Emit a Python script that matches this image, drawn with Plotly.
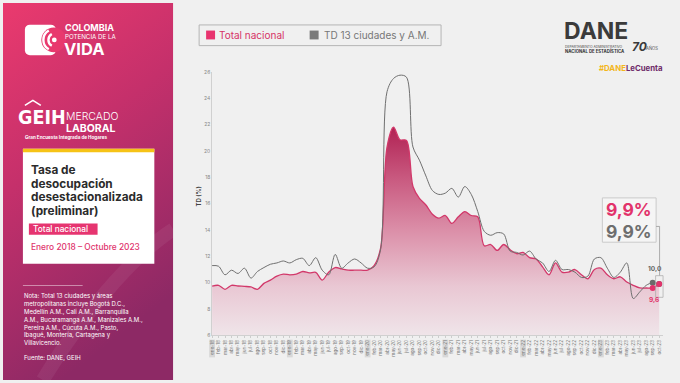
import base64
import plotly.graph_objects as go

# ---------------- data ----------------
months_es = ["ene", "feb", "mar", "abr", "may", "jun", "jul", "ago", "sep", "oct", "nov", "dic"]
years_short = ["18", "19", "20", "21", "22", "23"]
tick_labels = [f"{m}-{y}" for y in years_short for m in months_es][:70]

total_nacional = [
    9.74, 9.80, 9.50, 9.80, 9.75, 9.72, 9.68, 9.50, 9.95, 10.20, 10.50, 10.65,
    10.60, 10.65, 10.85, 10.75, 10.78, 10.20, 10.80, 11.15, 11.05, 10.95, 10.95, 10.95,
    10.95, 11.30, 12.60, 20.30, 21.80, 20.85, 20.80, 17.30, 16.40, 15.90, 15.20, 14.90,
    15.10, 14.50, 15.00, 15.40, 15.10, 15.00, 12.80, 12.90, 12.45, 12.90, 12.50, 12.20,
    12.30, 11.90, 11.80, 11.20, 10.60, 11.50, 10.80, 10.80, 11.00, 10.60, 10.30, 11.00,
    11.10, 10.60, 10.30, 10.45, 10.05, 9.80, 9.60, 9.60, 9.60, 9.90,
]
td_13_ciudades = [
    11.30, 11.25, 10.60, 10.95, 10.70, 11.10, 10.35, 10.85, 11.15, 11.40, 11.50, 11.65,
    11.50, 11.75, 11.85, 11.30, 11.90, 10.95, 10.60, 12.15, 11.10, 11.50, 11.80, 11.50,
    11.10, 11.20, 12.50, 24.50, 25.50, 25.75, 25.60, 20.30, 19.30, 18.10, 17.00, 16.70,
    16.80, 17.16, 16.50, 17.30, 16.70, 15.40, 13.90, 13.60, 13.80, 13.70, 12.40, 12.30,
    12.10, 12.40, 11.80, 11.50, 10.85, 11.70, 11.00, 11.00, 10.80, 10.40, 10.50, 11.80,
    11.90, 11.10, 10.40, 10.80, 11.50, 8.80, 9.30, 9.80, 10.00, 9.90,
]
y_ticks = [6, 8, 10, 12, 14, 16, 18, 20, 22, 24, 26]
x_idx = list(range(len(total_nacional)))

note_lines = [
    "Nota: Total 13 ciudades y áreas",
    "metropolitanas incluye Bogotá D.C.,",
    "Medellín A.M., Cali A.M., Barranquilla",
    "A.M., Bucaramanga A.M., Manizales A.M.,",
    "Pereira A.M., Cúcuta A.M., Pasto,",
    "Ibagué, Montería, Cartagena y",
    "Villavicencio.",
]

# ---------------- styling ----------------
W, H = 680, 383
FONT = "Inter"
PINK = "#e0336b"
PINK_LINE = "#d2386a"
GREY = "#6f6f6f"

X_DOM = (210 / W, 663 / W)
X_RNG = (0, 69.6)
Y_DOM = (1 - 337.7 / H, 1 - 70 / H)
Y_RNG = (6, 26)


def px(x):
    return x / W


def py(y):
    return 1 - y / H


def x_to_paper(m):
    return X_DOM[0] + (m - X_RNG[0]) / (X_RNG[1] - X_RNG[0]) * (X_DOM[1] - X_DOM[0])


def fmt(v):
    return f"{v:.1f}".replace(".", ",")


annotations = []
shapes = []


def txt(x, y, s, size, color, weight="normal", xanchor="left", family=FONT, **kw):
    annotations.append(dict(
        x=px(x), y=py(y), xref="paper", yref="paper", text=s, showarrow=False,
        xanchor=xanchor, yanchor="middle", borderpad=0,
        font=dict(size=size, color=color, family=family, weight=weight), **kw))


def rect(x0, y0, x1, y1, fill=None, line=None, lw=0, layer="above"):
    shapes.append(dict(type="rect", xref="paper", yref="paper",
                       x0=px(x0), x1=px(x1), y0=py(y1), y1=py(y0),
                       fillcolor=fill or "rgba(0,0,0,0)",
                       line=dict(color=line or "rgba(0,0,0,0)", width=lw), layer=layer))


def seg(x0, y0, x1, y1, color, lw=1, layer="above"):
    shapes.append(dict(type="line", xref="paper", yref="paper",
                       x0=px(x0), x1=px(x1), y0=py(y0), y1=py(y1),
                       line=dict(color=color, width=lw), layer=layer))


# ---------------- left panel (gradient + icon) as svg image ----------------
svg = """<svg xmlns='http://www.w3.org/2000/svg' width='171' height='383' viewBox='0 0 171 383'>
<defs><linearGradient id='g' x1='0' y1='0' x2='0.35' y2='1'>
<stop offset='0' stop-color='#ea3a6e'/><stop offset='0.45' stop-color='#c5306b'/>
<stop offset='1' stop-color='#8d2965'/></linearGradient></defs>
<rect width='171' height='383' fill='url(#g)'/>
<path d='M40 383 C 90 300, 140 250, 171 230' stroke='rgba(255,255,255,0.06)' stroke-width='14' fill='none'/>
<rect x='22' y='22' width='31' height='31' rx='5' fill='white'/>
<circle cx='51' cy='37.5' r='12.5' fill='#e8396e'/>
<path d='M46 28 A 11 11 0 0 0 46 47' stroke='white' stroke-width='2.4' fill='none'/>
<path d='M49 31.5 A 7 7 0 0 0 49 43.5' stroke='white' stroke-width='2.4' fill='none'/>
<circle cx='51.5' cy='37.5' r='2.4' fill='white'/>
<path d='M22 104 L30 99 L38 104' stroke='white' stroke-width='1.6' fill='none'/>
</svg>"""
svg_uri = "data:image/svg+xml;base64," + base64.b64encode(svg.encode()).decode()

# ---------------- traces ----------------
fig = go.Figure()
fig.add_trace(go.Scatter(
    x=x_idx, y=total_nacional, mode="lines",
    line=dict(color=PINK_LINE, width=1.3, shape="spline", smoothing=0.9),
    fill="tozeroy",
    fillgradient=dict(type="vertical", start=6, stop=22, colorscale=[
        [0.0, "#f0e7eb"], [0.25, "#e9c7d3"], [0.5, "#dc91aa"],
        [0.75, "#c95a80"], [1.0, "#b02052"]]),
    hoverinfo="skip", showlegend=False))
fig.add_trace(go.Scatter(
    x=x_idx, y=td_13_ciudades, mode="lines",
    line=dict(color=GREY, width=1, shape="spline", smoothing=0.9),
    hoverinfo="skip", showlegend=False))

last, prev = len(x_idx) - 1, len(x_idx) - 2
fig.add_trace(go.Scatter(
    x=[x_idx[prev], x_idx[last]], y=[td_13_ciudades[prev], td_13_ciudades[last]],
    mode="markers", marker=dict(color="#6a6a6a", size=6), showlegend=False, hoverinfo="skip"))
fig.add_trace(go.Scatter(
    x=[x_idx[prev], x_idx[last]], y=[total_nacional[prev], total_nacional[last]],
    mode="markers", marker=dict(color="#e2336b", size=6), showlegend=False, hoverinfo="skip"))

# value labels for previous month
annotations.append(dict(x=x_idx[prev] + 0.4, y=td_13_ciudades[prev], xref="x", yref="y",
                        text=fmt(td_13_ciudades[prev]), showarrow=False, yshift=14,
                        font=dict(size=6.5, color="#666", family=FONT, weight="bold")))
annotations.append(dict(x=x_idx[prev] + 0.2, y=total_nacional[prev], xref="x", yref="y",
                        text=fmt(total_nacional[prev]), showarrow=False, yshift=-12,
                        font=dict(size=6.5, color=PINK, family=FONT, weight="bold")))

# big box with latest values
rect(602, 198, 656, 243, fill="#f5f5f5", line="#cacaca", lw=1)
txt(629, 209.5, fmt(total_nacional[last]) + "%", 17.5, "#e2336b", weight="bold", xanchor="center")
txt(629, 232, fmt(td_13_ciudades[last]) + "%", 17.5, "#6e6e6e", weight="bold", xanchor="center")
seg(656, 227, 659.5, 227, "#9a9a9a", 0.8)
seg(659.5, 227, 659.5, 277, "#9a9a9a", 0.8)
rect(655.5, 277, 663, 299, line="#a8a8a8", lw=0.7)

# ---------------- left panel content ----------------
txt(61, 25, "COLOMBIA", 9, "white", weight="bold")
txt(61, 33.8, "POTENCIA DE LA", 6.2, "white")
txt(60, 46.5, "VIDA", 16.5, "white", weight="bold")

txt(39, 116, "GEIH", 19.5, "white", weight="bold", xanchor="center",
    family="DejaVu Sans Condensed, Roboto, sans-serif")
txt(62, 115.5, "MERCADO", 10.5, "white", weight=300)
txt(62, 127.5, "LABORAL", 10.5, "white", weight="bold")
txt(21, 137, "Gran Encuesta Integrada de Hogares", 4.6, "white", weight="bold")

rect(20, 148, 152, 265, fill="white", layer="above")
rect(20, 148, 152, 151.5, fill="#f6c317", layer="above")
title_lines = ["Tasa de", "desocupación", "desestacionalizada", "(preliminar)"]
for i, s in enumerate(title_lines):
    txt(27, 169.5 + 14 * i, s, 11.8, "#2b2b2b", weight="bold")
rect(26, 224, 95, 235.5, fill="#e63570", layer="above")
txt(29, 229.8, "Total nacional", 8.3, "white", weight=500)
txt(27, 248, "Enero 2018 – Octubre 2023", 8.4, "#e0336c", weight=500)

seg(20, 287, 80, 287, "rgba(255,255,255,0.45)", 1)
for i, s in enumerate(note_lines):
    txt(20, 298 + 7.9 * i, s, 6, "white")
txt(20, 360.5, "Fuente: DANE, GEIH", 6, "white")

# ---------------- right header ----------------
rect(197, 22.3, 440, 43.3, line="#b5b5b5", lw=1)
rect(204, 28, 213, 37, fill="#e8336e")
txt(216, 32.7, "Total nacional", 10, "#d63366")
rect(308, 28, 317, 37, fill="#7a7a7a")
txt(321, 32.7, "TD 13 ciudades y A.M.", 10, "#777777")

txt(562, 28.5, "DANE", 23, "#3b3b3b", weight="bold")
txt(563, 45.2, "DEPARTAMENTO ADMINISTRATIVO", 3.4, "#444")
txt(563, 49.2, "NACIONAL DE ESTADÍSTICA", 4.3, "#333", weight="bold")
txt(631, 44.5, "<i>70</i>", 12, "#3b3b3b", weight="bold")
txt(645, 45.5, "AÑOS", 4.2, "#555")
txt(598, 66, "<span style='color:#f3b61c'>#DANE</span><span style='color:#6e2b69'>LeCuenta</span>",
    7.8, "#6e2b69", weight="bold")

# y axis title
annotations.append(dict(x=px(191), y=py(197), xref="paper", yref="paper", text="TD (%)",
                        showarrow=False, textangle=-90,
                        font=dict(size=6, color="#444", family=FONT, weight="bold")))

# january highlights behind tick labels
for i, lab in enumerate(tick_labels):
    if lab.startswith("ene"):
        shapes.append(dict(type="rect", xref="paper", yref="paper",
                           x0=x_to_paper(i - 0.45), x1=x_to_paper(i + 0.45),
                           y0=py(360), y1=py(342), fillcolor="#d8d8d8",
                           line=dict(width=0), layer="below"))

fig.update_layout(
    width=W, height=H, margin=dict(l=0, r=0, t=0, b=0),
    paper_bgcolor="#f0f0f0", plot_bgcolor="rgba(0,0,0,0)",
    showlegend=False,
    images=[dict(source=svg_uri, xref="paper", yref="paper", x=0, y=1,
                 sizex=171 / W, sizey=1, xanchor="left", yanchor="top",
                 sizing="stretch", layer="below")],
    xaxis=dict(domain=list(X_DOM), range=list(X_RNG), tickmode="array",
               tickvals=x_idx, ticktext=tick_labels, tickangle=-90,
               tickfont=dict(size=4.6, color="#777", family=FONT),
               showgrid=False, zeroline=False, showline=True, linecolor="#d0d0d0",
               linewidth=0.6, ticks="outside", ticklen=2, tickcolor="#cccccc"),
    yaxis=dict(domain=list(Y_DOM), range=list(Y_RNG), tickmode="array",
               tickvals=y_ticks, ticktext=[str(v) for v in y_ticks],
               tickfont=dict(size=5, color="#888", family=FONT),
               showgrid=False, zeroline=False, showline=True, linecolor="#d0d0d0",
               linewidth=0.6, ticks=""),
    annotations=annotations, shapes=shapes,
)

fig.write_html("out.html", config={"displayModeBar": False},
               post_script="document.body.style.margin='0';document.body.style.padding='0';"
                           "document.body.style.overflow='hidden';")
